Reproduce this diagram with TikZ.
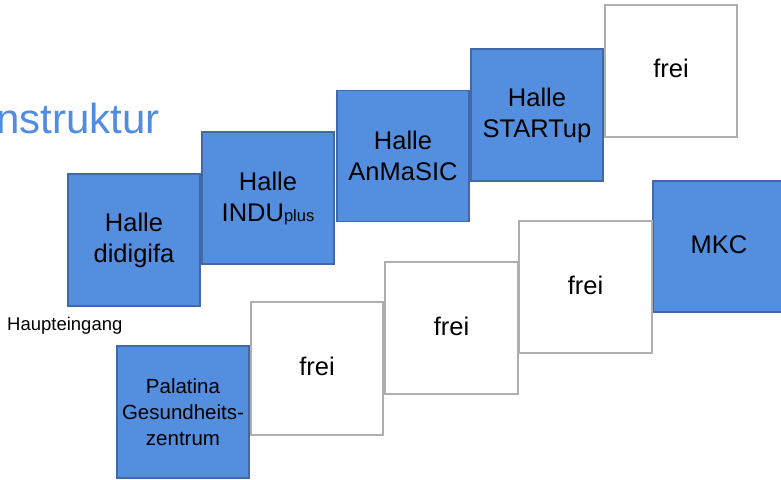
\documentclass[tikz,border=0pt]{standalone}
\usepackage{fontspec}
\setmainfont{Liberation Sans}
\definecolor{boxblue}{RGB}{84,142,222}
\definecolor{boxedge}{RGB}{66,104,168}
\definecolor{freiedge}{RGB}{175,175,175}
\definecolor{titleblue}{RGB}{80,140,226}
\tikzset{
  hall/.style={rectangle, fill=boxblue, draw=boxedge, line width=1.2pt, minimum width=132pt, minimum height=132pt, align=center, font=\fontsize{25.5}{31}\selectfont, inner sep=0pt},
  freebox/.style={rectangle, fill=white, draw=freiedge, line width=1.5pt, minimum width=132pt, minimum height=132pt, align=center, font=\fontsize{25.5}{31}\selectfont, inner sep=0pt},
}
\begin{document}
\begin{tikzpicture}[x=1pt,y=-1pt]
\useasboundingbox (0,0) rectangle (781,479);
\fill[white] (0,0) rectangle (781,479);
\node[anchor=base west, text=titleblue, font=\fontsize{42}{42}\selectfont, inner sep=0pt] (title) at (-4,133) {nstruktur};
\node[hall] (didigifa) at (134,240) {Halle\\didigifa};
\node[hall] (indu) at (268,198) {Halle\\INDU{\fontsize{16.5}{16}\selectfont plus}};
\node[hall, minimum height=131pt] (anmasic) at (403,156) {Halle\\AnMaSIC};
\node[hall] (startup) at (537,115) {Halle\\STARTup};
\node[freebox] (frei5) at (671,71) {\raisebox{6pt}{frei}};
\node[hall, minimum width=140pt, minimum height=131pt] (mkc) at (723,246.5) {\hspace*{-8pt}\raisebox{4pt}{MKC}};
\node[freebox, minimum width=133pt] (frei4) at (585.5,287) {\raisebox{4pt}{frei}};
\node[freebox, minimum width=133pt] (frei3) at (451.5,328) {\raisebox{4pt}{frei}};
\node[freebox, minimum height=133pt] (frei2) at (317,368.5) {\raisebox{4pt}{frei}};
\node[hall, font=\fontsize{20.5}{26}\selectfont] (palatina) at (183,412) {Palatina\\Gesundheits-\\zentrum};
\node[anchor=west, font=\fontsize{18.5}{18}\selectfont, inner sep=0pt] (eingang) at (7,326) {Haupteingang};
\end{tikzpicture}
\end{document}
